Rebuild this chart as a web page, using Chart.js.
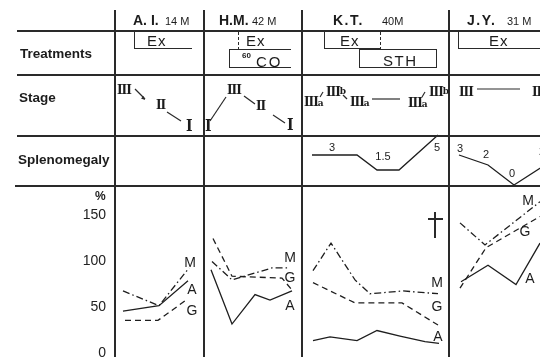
<!DOCTYPE html>
<html><head><meta charset="utf-8">
<script src="https://cdn.jsdelivr.net/npm/chart.js@4/dist/chart.umd.min.js"></script>
<style>
html,body{margin:0;padding:0;background:#fff;}
#wrap{position:relative;width:540px;height:357px;overflow:hidden;background:#fff;font-family:"Liberation Sans",Arial,sans-serif;color:#1c1c1c;}
.ln{position:absolute;background:#2a2a2a;}
.t{position:absolute;white-space:nowrap;line-height:1;transform:translateY(-50%);}
.c{transform:translate(-50%,-50%);}
.box{position:absolute;border:0 solid #2a2a2a;box-sizing:border-box;}
.rn{font-family:"DejaVu Serif",serif;font-weight:bold;font-size:12px;letter-spacing:-1px;}
.rn1{font-family:"DejaVu Serif",serif;font-weight:bold;font-size:14px;transform:translateY(-50%) scaleY(1.15);}
.sub{font-size:9px;letter-spacing:0;}
canvas{position:absolute;}
</style></head><body>
<div id="wrap">
<canvas id="sp" width="425" height="56" style="left:115px;top:131px"></canvas>
<canvas id="pc" width="540" height="171" style="left:0;top:186px"></canvas>
<svg id="sv" width="540" height="357" style="position:absolute;left:0;top:0"></svg>
</div>
<script>
// ---------- data ----------
const patients = ["A. I.", "H.M.", "K.T.", "J.Y."];
const ages = ["14 M", "42 M", "40M", "31 M"];
const rowLabels = ["Treatments", "Stage", "Splenomegaly"];
const yTicks = [0, 50, 100, 150];
const seriesNames = ["M", "A", "G"];
// time position (panel units) , percent
const aiA = [[0.8,46],[4.4,52],[7.3,79]];
const aiM = [[0.8,68],[4.4,52],[7.4,93]];
const aiG = [[1.0,36],[4.3,36],[7.1,58]];
const hmA = [[9.6,91],[11.7,32],[14.0,64],[15.5,58],[17.7,68]];
const hmM = [[9.7,100],[11.7,80],[15.7,93],[17.3,93]];
const hmG = [[9.8,125],[11.7,84],[16.7,82],[17.7,69]];
const ktA = [[19.8,14],[21.5,18],[24.2,14],[26.2,25],[28.5,19],[31.0,13],[32.4,11]];
const ktM = [[19.8,90],[21.6,120],[24.0,80],[25.5,65],[28.8,68],[32.3,65]];
const ktG = [[19.8,77],[24.0,55],[28.7,55],[32.3,31]];
const jyA = [[34.6,78],[37.3,96],[40.1,75],[42.5,120]];
const jyM = [[34.5,142],[37.0,118],[42.5,165]];
const jyG = [[34.5,71],[37.1,115],[42.5,149]];
// splenomegaly (finger breadths)
const ktSpleen = [[19.7,3],[24.2,3],[26.2,1.5],[28.4,1.5],[32.3,5]];
const jySpleen = [[34.4,3],[37.3,2],[39.9,0],[43.0,2]];
const ktSpleenLabels = ["3", "1.5", "5"];
const jySpleenLabels = ["3", "2", "0", "2"];

// ---------- layout ----------
const wrap = document.getElementById('wrap');
function L(x,y,w,h,extra){const d=document.createElement('div');d.className='ln';d.style.cssText+=`left:${x}px;top:${y}px;width:${w}px;height:${h}px;`+(extra||'');wrap.appendChild(d);}
function T(x,y,s,css,cls){const d=document.createElement('div');d.className='t'+(cls?' '+cls:'');d.style.left=x+'px';d.style.top=y+'px';d.innerHTML=s;if(css)d.style.cssText+=css;wrap.appendChild(d);}
function B(x,y,w,h,bw){const d=document.createElement('div');d.className='box';d.style.cssText+=`left:${x}px;top:${y}px;width:${w}px;height:${h}px;border-width:${bw};`;wrap.appendChild(d);}

// table rules
L(17,30,523,2);
L(17,74,523,1.5);
L(17,135,523,1.5);
L(15,185,525,1.5);
[114,203,301,448].forEach(x=>L(x,10,1.5,347));

// header
const nameX=[133,219,333,467], ageX=[165,252,382,507];
patients.forEach((p,i)=>{T(nameX[i],20,p,'font-weight:bold;font-size:14px;'+(i>=2?'letter-spacing:1.5px;':''));T(ageX[i],21,ages[i],'font-size:11px;');});
T(20,54,rowLabels[0],'font-weight:bold;font-size:13.5px;');
T(19,98,rowLabels[1],'font-weight:bold;font-size:13.5px;');
T(18,160,rowLabels[2],'font-weight:bold;font-size:13.5px;');
T(95,196,'%','font-weight:bold;font-size:12px;');

// treatments
B(134,31,58,18,'0 0 1.3px 1.3px');
T(147,40,'Ex','font-size:15px;letter-spacing:1px;');
L(238,32,1.3,17,'background:repeating-linear-gradient(#2a2a2a 0 3px,transparent 3px 5px);');
T(246,40,'Ex','font-size:15px;letter-spacing:1px;');
B(229,49,62,19,'1.3px 0 1.3px 1.3px');
T(242,56,'60','font-size:8px;font-weight:bold;');
T(256,61,'CO','font-size:15px;letter-spacing:2px;');
B(324,31,56,18,'0 0 1.3px 1.3px');
L(380,32,1.3,17,'background:repeating-linear-gradient(#2a2a2a 0 3px,transparent 3px 5px);');
T(340,40,'Ex','font-size:15px;letter-spacing:1px;');
B(359,49,78,19,'1.3px 1.3px 1.3px 1.3px');
T(383,60,'STH','font-size:15px;letter-spacing:1.5px;');
B(458,31,90,18,'0 0 1.3px 1.3px');
T(489,40,'Ex','font-size:15px;letter-spacing:1px;');

// stage
T(117,90,'III','', 'rn'); T(156,105,'II','', 'rn'); T(186,125,'I','', 'rn1');
T(205,125,'I','', 'rn1'); T(227,90,'III','', 'rn'); T(256,106,'II','', 'rn'); T(287,124,'I','', 'rn1');
const IIIa='III<span class="sub">a</span>', IIIb='III<span class="sub" style="vertical-align:2px">b</span>';
T(304,102,IIIa,'', 'rn'); T(326,92,IIIb,'', 'rn'); T(350,102,IIIa,'', 'rn'); T(408,103,IIIa,'', 'rn'); T(429,92,IIIb,'', 'rn');
T(459,92,'III','', 'rn'); T(532,92,'III','', 'rn');
document.getElementById('sv').innerHTML=[
 [135,89,145,99],[167,112,181,121],
 [210,121,226,97],[244,96,255,104],[273,115,285,123],
 [320,97,323,92],[343,95,347,99],[372,99,400,99],[422,97,425,92],
 [477,89,520,89]
].map(l=>`<line x1="${l[0]}" y1="${l[1]}" x2="${l[2]}" y2="${l[3]}" stroke="#2a2a2a" stroke-width="1.2"/>`).join('')
 + '<polygon points="145,100 141,98.5 143.5,96" fill="#2a2a2a"/>';

// spleen labels
[[332,147],[383,156],[437,147]].forEach((p,i)=>T(p[0],p[1],ktSpleenLabels[i],'font-size:11px;','c'));
[[460,148],[486,154],[512,173],[542,151]].forEach((p,i)=>T(p[0],p[1],jySpleenLabels[i],'font-size:11px;','c'));

// series labels
const labPos=[
 [[190,262],[192,289],[192,310]],
 [[290,257],[290,305],[290,277]],
 [[437,282],[438,336],[437,306]],
 [[528,200],[530,278],[525,231]]
];
labPos.forEach(pp=>{T(pp[0][0],pp[0][1],seriesNames[0],'font-size:14px;','c');T(pp[1][0],pp[1][1],seriesNames[1],'font-size:14px;','c');T(pp[2][0],pp[2][1],seriesNames[2],'font-size:14px;','c');});

// cross
L(434,212,1.5,26); L(428,218,15,1.5);

// ---------- charts ----------
const DASH={A:[],G:[6,4],M:[7,3,1.5,3]};
function ds(pts,k){return {data:pts.map(p=>({x:p[0],y:p[1]})),borderColor:'#1e1e1e',borderWidth:1.3,borderDash:DASH[k],pointRadius:0,tension:0,fill:false};}
const common={responsive:false,animation:false,events:[],plugins:{legend:{display:false},tooltip:{enabled:false}},layout:{padding:0}};

new Chart(document.getElementById('pc'),{type:'line',
 data:{datasets:[ds(aiA,'A'),ds(aiM,'M'),ds(aiG,'G'),ds(hmA,'A'),ds(hmM,'M'),ds(hmG,'G'),ds(ktA,'A'),ds(ktM,'M'),ds(ktG,'G'),ds(jyA,'A'),ds(jyM,'M'),ds(jyG,'G')]},
 options:Object.assign({},common,{scales:{
  x:{type:'linear',min:0,max:42.5,display:false},
  y:{min:-3.8,max:182.1,grid:{display:false,drawTicks:false},border:{display:false},
     ticks:{padding:9,color:'#222',font:{family:'Liberation Sans',size:14}},
     afterBuildTicks:s=>{s.ticks=yTicks.map(v=>({value:v}));},
     afterFit:s=>{s.width=115;s.paddingTop=0;s.paddingBottom=0;}}
 }})
});

new Chart(document.getElementById('sp'),{type:'line',
 data:{datasets:[ds(ktSpleen,'A'),ds(jySpleen,'A')]},
 options:Object.assign({},common,{scales:{
  x:{type:'linear',min:0,max:42.5,display:false},
  y:{min:-0.2,max:5.4,display:false}
 }})
});
</script>
</body></html>
